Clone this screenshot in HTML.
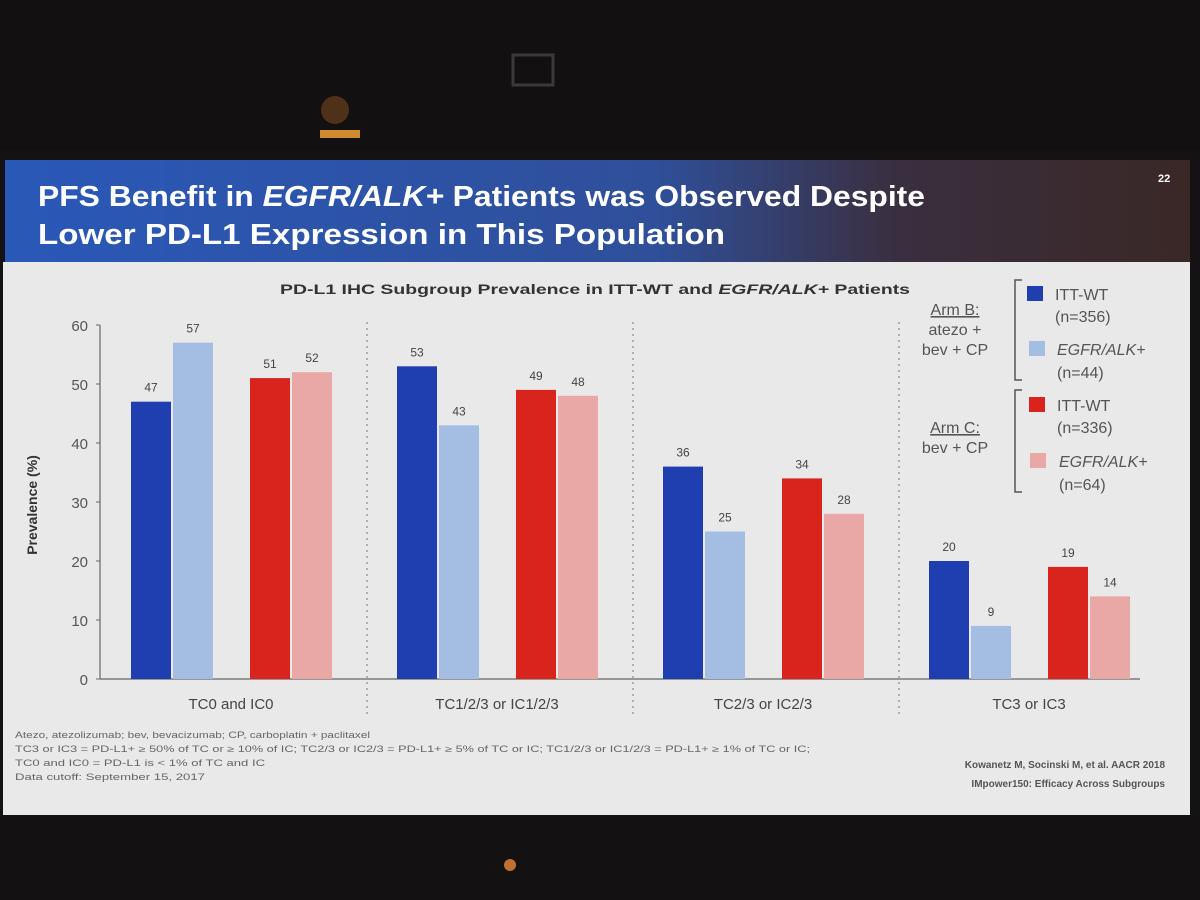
<!DOCTYPE html>
<html><head><meta charset="utf-8"><style>
html,body{margin:0;padding:0;width:1200px;height:900px;overflow:hidden;background:#141212;}
svg{display:block;font-family:"Liberation Sans",sans-serif;}
</style></head><body>
<svg width="1200" height="900" viewBox="0 0 1200 900">
<defs>
<linearGradient id="tg" x1="0" x2="1" y1="0" y2="0">
<stop offset="0" stop-color="#2a58b8"/><stop offset="0.55" stop-color="#2f4f9a"/><stop offset="0.75" stop-color="#3a2f40"/><stop offset="1" stop-color="#3a2826"/></linearGradient>
</defs>
<rect x="0" y="0" width="1200" height="150" fill="#121010"/>
<rect x="513" y="55" width="40" height="30" fill="none" stroke="#3a3a38" stroke-width="3"/>
<circle cx="335" cy="110" r="14" fill="#6a4020" opacity="0.7"/>
<rect x="320" y="130" width="40" height="8" fill="#d08a30"/>
<rect x="5" y="160" width="1185" height="102" fill="url(#tg)"/>
<text x="38" y="206" fill="#fff" font-size="29" font-weight="bold" textLength="887" lengthAdjust="spacingAndGlyphs">PFS Benefit in <tspan font-style="italic">EGFR/ALK+</tspan> Patients was Observed Despite</text>
<text x="38" y="244" fill="#fff" font-size="29" font-weight="bold" textLength="687" lengthAdjust="spacingAndGlyphs">Lower PD-L1 Expression in This Population</text>
<text x="1158" y="182" fill="#fff" font-size="11" font-weight="bold">22</text>
<rect x="3" y="262" width="1187" height="553" fill="#e8e9e8"/>
<rect x="0" y="815" width="1200" height="85" fill="#131111"/>
<circle cx="510" cy="865" r="6" fill="#c07030"/>
<text x="280" y="294" fill="#333" font-size="14" font-weight="bold" textLength="630" lengthAdjust="spacingAndGlyphs">PD-L1 IHC Subgroup Prevalence in ITT-WT and <tspan font-style="italic">EGFR/ALK+</tspan> Patients</text>
<g id="chart"></g>
<text transform="translate(37,505) rotate(-90)" text-anchor="middle" fill="#333" font-size="14" font-weight="bold">Prevalence (%)</text>
<g font-size="16" fill="#555">
<text x="955" y="315" text-anchor="middle" text-decoration="underline">Arm B:</text>
<text x="955" y="335" text-anchor="middle">atezo +</text>
<text x="955" y="355" text-anchor="middle">bev + CP</text>
<path d="M1022 280 L1015 280 L1015 380 L1022 380" fill="none" stroke="#555" stroke-width="1.5"/>
<text x="955" y="433" text-anchor="middle" text-decoration="underline">Arm C:</text>
<text x="955" y="453" text-anchor="middle">bev + CP</text>
<path d="M1022 390 L1015 390 L1015 492 L1022 492" fill="none" stroke="#555" stroke-width="1.5"/>
<g><rect x="1027" y="286" width="16" height="15" fill="#1f3fb0"/><text x="1055" y="300">ITT-WT</text><text x="1055" y="322">(n=356)</text></g>
<g><rect x="1029" y="341" width="16" height="15" fill="#a4bde3"/><text x="1057" y="355" font-style="italic">EGFR/ALK+</text><text x="1057" y="378">(n=44)</text></g>
<g><rect x="1029" y="397" width="16" height="15" fill="#d9241e"/><text x="1057" y="411">ITT-WT</text><text x="1057" y="433">(n=336)</text></g>
<g><rect x="1030" y="453" width="16" height="15" fill="#e9a7a5"/><text x="1059" y="467" font-style="italic">EGFR/ALK+</text><text x="1059" y="490">(n=64)</text></g>
</g>
<g font-size="9" fill="#666">
<text x="15" y="738" textLength="355" lengthAdjust="spacingAndGlyphs">Atezo, atezolizumab; bev, bevacizumab; CP, carboplatin + paclitaxel</text>
<text x="15" y="752" textLength="795" lengthAdjust="spacingAndGlyphs">TC3 or IC3 = PD-L1+ ≥ 50% of TC or ≥ 10% of IC; TC2/3 or IC2/3 = PD-L1+ ≥ 5% of TC or IC; TC1/2/3 or IC1/2/3 = PD-L1+ ≥ 1% of TC or IC;</text>
<text x="15" y="766" textLength="250" lengthAdjust="spacingAndGlyphs">TC0 and IC0 = PD-L1 is &lt; 1% of TC and IC</text>
<text x="15" y="780" textLength="190" lengthAdjust="spacingAndGlyphs">Data cutoff: September 15, 2017</text>
</g>
<text x="1165" y="768" text-anchor="end" font-size="10" font-weight="bold" fill="#555">Kowanetz M, Socinski M, et al. AACR 2018</text>
<text x="1165" y="787" text-anchor="end" font-size="10" font-weight="bold" fill="#555">IMpower150: Efficacy Across Subgroups</text>
</svg>
<script>
const categories=["TC0 and IC0","TC1/2/3 or IC1/2/3","TC2/3 or IC2/3","TC3 or IC3"];
const armBWT=[47,53,36,20];
const armBEGFR=[57,43,25,9];
const armCWT=[51,49,34,19];
const armCEGFR=[52,48,28,14];
const yTicks=[0,10,20,30,40,50,60];
const NS="http://www.w3.org/2000/svg";
const g=document.getElementById('chart');
const y0=679,y60=325;
function y(v){return y0-(y0-y60)*v/60;}
function gx(i){return 131+266*i;}
function mk(t,a){const e=document.createElementNS(NS,t);for(const k in a)e.setAttribute(k,a[k]);g.appendChild(e);return e;}
const ax=mk('line',{x1:100,y1:y(60),x2:100,y2:y0,stroke:'#666','stroke-width':1.2});


const bx=mk('line',{x1:100,y1:y0,x2:1140,y2:y0,stroke:'#666','stroke-width':1.2});


yTicks.forEach(v=>{
 mk('line',{x1:96,x2:100,y1:y(v),y2:y(v),stroke:'#666'});
 const t=mk('text',{x:88,y:y(v)+6,'text-anchor':'end','font-size':15,fill:'#555'});t.textContent=v;
 
 
});
const series=[[armBWT,'#1f3fb0',0],[armBEGFR,'#a4bde3',42],[armCWT,'#d9241e',119],[armCEGFR,'#e9a7a5',161]];
const bw=40;
categories.forEach((c,i)=>{
 series.forEach(([arr,col,off],s)=>{
  const v=arr[i];
  const r=mk('rect',{x:gx(i)+off,y:y(v),width:bw,height:y0-y(v),fill:col});
  
  
  const t=mk('text',{x:gx(i)+off+bw/2,y:y(v)-10,'text-anchor':'middle','font-size':12,fill:'#444'});t.textContent=v;
  
  
 });
 const l=mk('text',{x:gx(i)+100,y:709,'text-anchor':'middle','font-size':15,fill:'#444'});l.textContent=c;
 
 
 if(i>0){const d=mk('line',{x1:gx(i)-30,x2:gx(i)-30,y1:322,y2:715,stroke:'#777','stroke-dasharray':'2,4'});
 
 }
});
</script>
</body></html>
